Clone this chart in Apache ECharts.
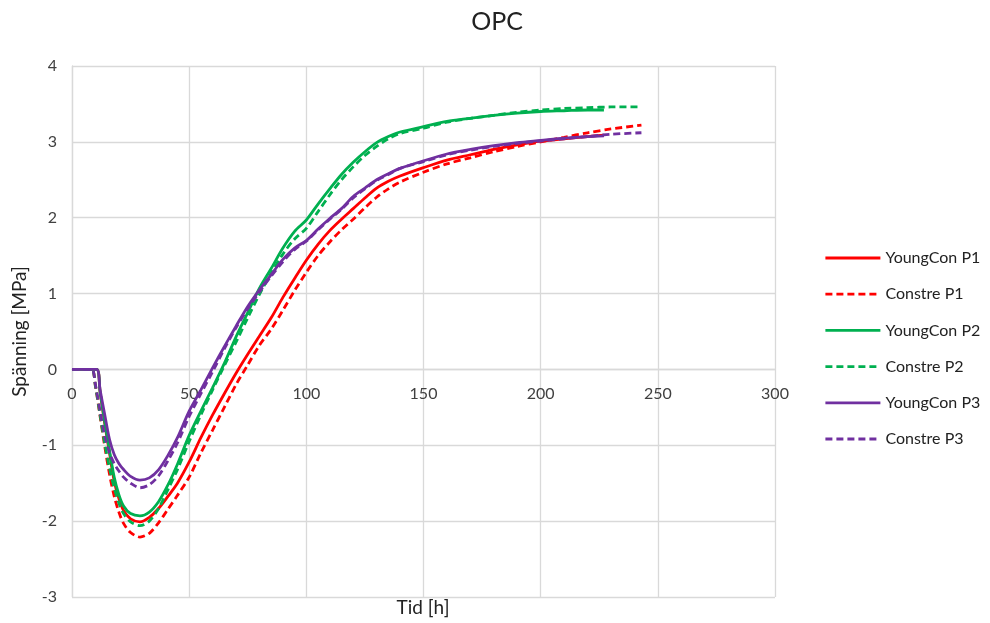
<!DOCTYPE html>
<html>
<head>
<meta charset="utf-8">
<title>OPC</title>
<script src="https://cdn.jsdelivr.net/npm/echarts@6/dist/echarts.min.js"></script>
<style>
  html, body { margin: 0; padding: 0; background: #fff; }
  #main { width: 990px; height: 623px; }
</style>
</head>
<body>
<div id="main"></div>
<script>
// tid [h] for the YoungCon curves and for the Constre curves
const timeSolid = [0, 5, 10.5, 12, 14, 16, 18, 20, 22, 25, 29, 33, 37, 41, 45,
  50, 55, 60, 65, 70, 75, 80, 85, 90, 95, 100, 105, 110, 115, 120, 125, 130, 135, 140,
  150, 160, 170, 180, 190, 200, 210, 220, 227];
const timeDashed = [0, 5, 8.5, 10, 12, 14, 16, 18, 20, 22, 25, 29, 33, 37, 41, 45,
  50, 55, 60, 65, 70, 75, 80, 85, 90, 95, 100, 105, 110, 115, 120, 125, 130, 135, 140,
  150, 160, 170, 180, 190, 200, 210, 220, 230, 243];

// spänning [MPa]
const youngP1 = [0, 0, 0, -0.3, -0.72, -1.1, -1.47, -1.7, -1.86, -1.97, -2.01, -1.95, -1.83, -1.67, -1.5,
  -1.22, -0.9, -0.6, -0.32, -0.05, 0.2, 0.44, 0.68, 0.95, 1.2, 1.44, 1.65, 1.83, 1.98, 2.12, 2.26, 2.39, 2.48, 2.55,
  2.66, 2.76, 2.83, 2.9, 2.96, 3.01, 3.04, 3.07, 3.09];
const constreP1 = [0, 0, 0, -0.22, -0.62, -1.02, -1.38, -1.67, -1.88, -2.03, -2.15, -2.21, -2.16, -2.02, -1.84, -1.66,
  -1.42, -1.1, -0.8, -0.5, -0.2, 0.06, 0.32, 0.53, 0.78, 1.04, 1.28, 1.5, 1.68, 1.84, 1.98, 2.13, 2.27, 2.38, 2.47,
  2.6, 2.71, 2.79, 2.87, 2.94, 3.0, 3.06, 3.12, 3.17, 3.22];
const youngP2 = [0, 0, 0, -0.3, -0.7, -1.07, -1.42, -1.65, -1.8, -1.9, -1.93, -1.88, -1.74, -1.52, -1.25,
  -0.87, -0.55, -0.24, 0.08, 0.43, 0.75, 1.07, 1.33, 1.6, 1.82, 1.97, 2.18, 2.38, 2.57, 2.73, 2.87, 2.99, 3.07, 3.13,
  3.2, 3.27, 3.31, 3.35, 3.38, 3.4, 3.41, 3.42, 3.42];
const constreP2 = [0, 0, 0, -0.22, -0.6, -0.98, -1.3, -1.56, -1.76, -1.9, -2.01, -2.06, -2.0, -1.83, -1.58, -1.32,
  -0.95, -0.6, -0.27, 0.05, 0.36, 0.68, 0.99, 1.27, 1.52, 1.72, 1.86, 2.08, 2.3, 2.5, 2.67, 2.82, 2.94, 3.04, 3.11,
  3.18, 3.26, 3.31, 3.35, 3.39, 3.42, 3.44, 3.45, 3.46, 3.46];
const youngP3 = [0, 0, 0, -0.27, -0.6, -0.92, -1.12, -1.24, -1.32, -1.41, -1.46, -1.43, -1.32, -1.13, -0.9,
  -0.55, -0.27, 0.02, 0.3, 0.57, 0.83, 1.05, 1.25, 1.45, 1.6, 1.7, 1.85, 1.99, 2.12, 2.28, 2.39, 2.5, 2.58, 2.65,
  2.75, 2.84, 2.9, 2.95, 2.99, 3.02, 3.05, 3.07, 3.08];
const constreP3 = [0, 0, 0, -0.2, -0.55, -0.88, -1.1, -1.24, -1.34, -1.42, -1.5, -1.56, -1.52, -1.4, -1.2, -0.97,
  -0.62, -0.32, -0.03, 0.27, 0.55, 0.8, 1.02, 1.23, 1.42, 1.58, 1.69, 1.84, 1.98, 2.11, 2.26, 2.38, 2.49, 2.57, 2.65,
  2.74, 2.83, 2.89, 2.94, 2.98, 3.01, 3.04, 3.07, 3.1, 3.12];

const RED = '#ff0000';
const GREEN = '#00b050';
const PURPLE = '#7030a0';
const FONT = 'Lato';

// gör [x, y]-par av tid och värden
const pairs = (t, v) => t.map((x, i) => [x, v[i]]);

const makeSeries = (name, t, v, color, dashed) => ({
  name: name,
  type: 'line',
  data: pairs(t, v),
  symbol: 'none',
  smooth: 0.3,
  lineStyle: { color: color, width: 2.8, type: dashed ? [7, 4] : 'solid' },
  itemStyle: { color: color }
});

// plot area: y from 4 (top 66) to -3 (bottom 597), x-axis sits on y = 0
const gridTop = 66, gridBottom = 26, plotH = 623 - gridTop - gridBottom;
const zeroOffset = -plotH * 3 / 7;

var myChart = echarts.init(document.getElementById('main'));
myChart.setOption({
  animation: false,
  textStyle: { fontFamily: FONT },
  grid: { left: 72, right: 215, top: gridTop, bottom: gridBottom },
  legend: {
    orient: 'vertical',
    left: 824,
    top: 248,
    padding: 0,
    itemWidth: 55,
    itemHeight: 20,
    itemGap: 16.2,
    itemStyle: { opacity: 0 },
    lineStyle: { width: 2.8 },
    textStyle: { fontFamily: FONT, fontSize: 16, color: '#222', lineHeight: 20 },
    data: ['YoungCon P1', 'Constre P1', 'YoungCon P2', 'Constre P2', 'YoungCon P3', 'Constre P3']
  },
  xAxis: {
    type: 'value',
    min: 0,
    max: 300,
    interval: 50,
    offset: zeroOffset,
    axisLine: { onZero: false, lineStyle: { color: '#d9d9d9', width: 1.3 } },
    axisTick: { show: false },
    axisLabel: { margin: 16, fontFamily: FONT, fontSize: 16, color: '#404040' },
    splitLine: { lineStyle: { color: '#d9d9d9', width: 1.3 } }
  },
  yAxis: {
    type: 'value',
    min: -3,
    max: 4,
    interval: 1,
    name: 'Spänning [MPa]',
    nameLocation: 'middle',
    nameGap: 43,
    nameTextStyle: { fontFamily: FONT, fontSize: 19, color: '#222' },
    axisLine: { show: true, lineStyle: { color: '#d9d9d9', width: 1.3 } },
    axisTick: { show: false },
    axisLabel: { margin: 15, fontFamily: FONT, fontSize: 16, color: '#404040' },
    splitLine: { lineStyle: { color: '#d9d9d9', width: 1.3 } }
  },
  graphic: [{
    type: 'text',
    x: 497,
    y: 22,
    style: { text: 'OPC', fontFamily: FONT, fontSize: 25, fill: '#222', align: 'center', verticalAlign: 'middle' }
  }, {
    type: 'text',
    x: 423,
    y: 608,
    style: { text: 'Tid [h]', fontFamily: FONT, fontSize: 19, fill: '#222', align: 'center', verticalAlign: 'middle' }
  }],
  series: [
    makeSeries('YoungCon P1', timeSolid, youngP1, RED, false),
    makeSeries('Constre P1', timeDashed, constreP1, RED, true),
    makeSeries('YoungCon P2', timeSolid, youngP2, GREEN, false),
    makeSeries('Constre P2', timeDashed, constreP2, GREEN, true),
    makeSeries('YoungCon P3', timeSolid, youngP3, PURPLE, false),
    makeSeries('Constre P3', timeDashed, constreP3, PURPLE, true)
  ]
});
</script>
</body>
</html>
